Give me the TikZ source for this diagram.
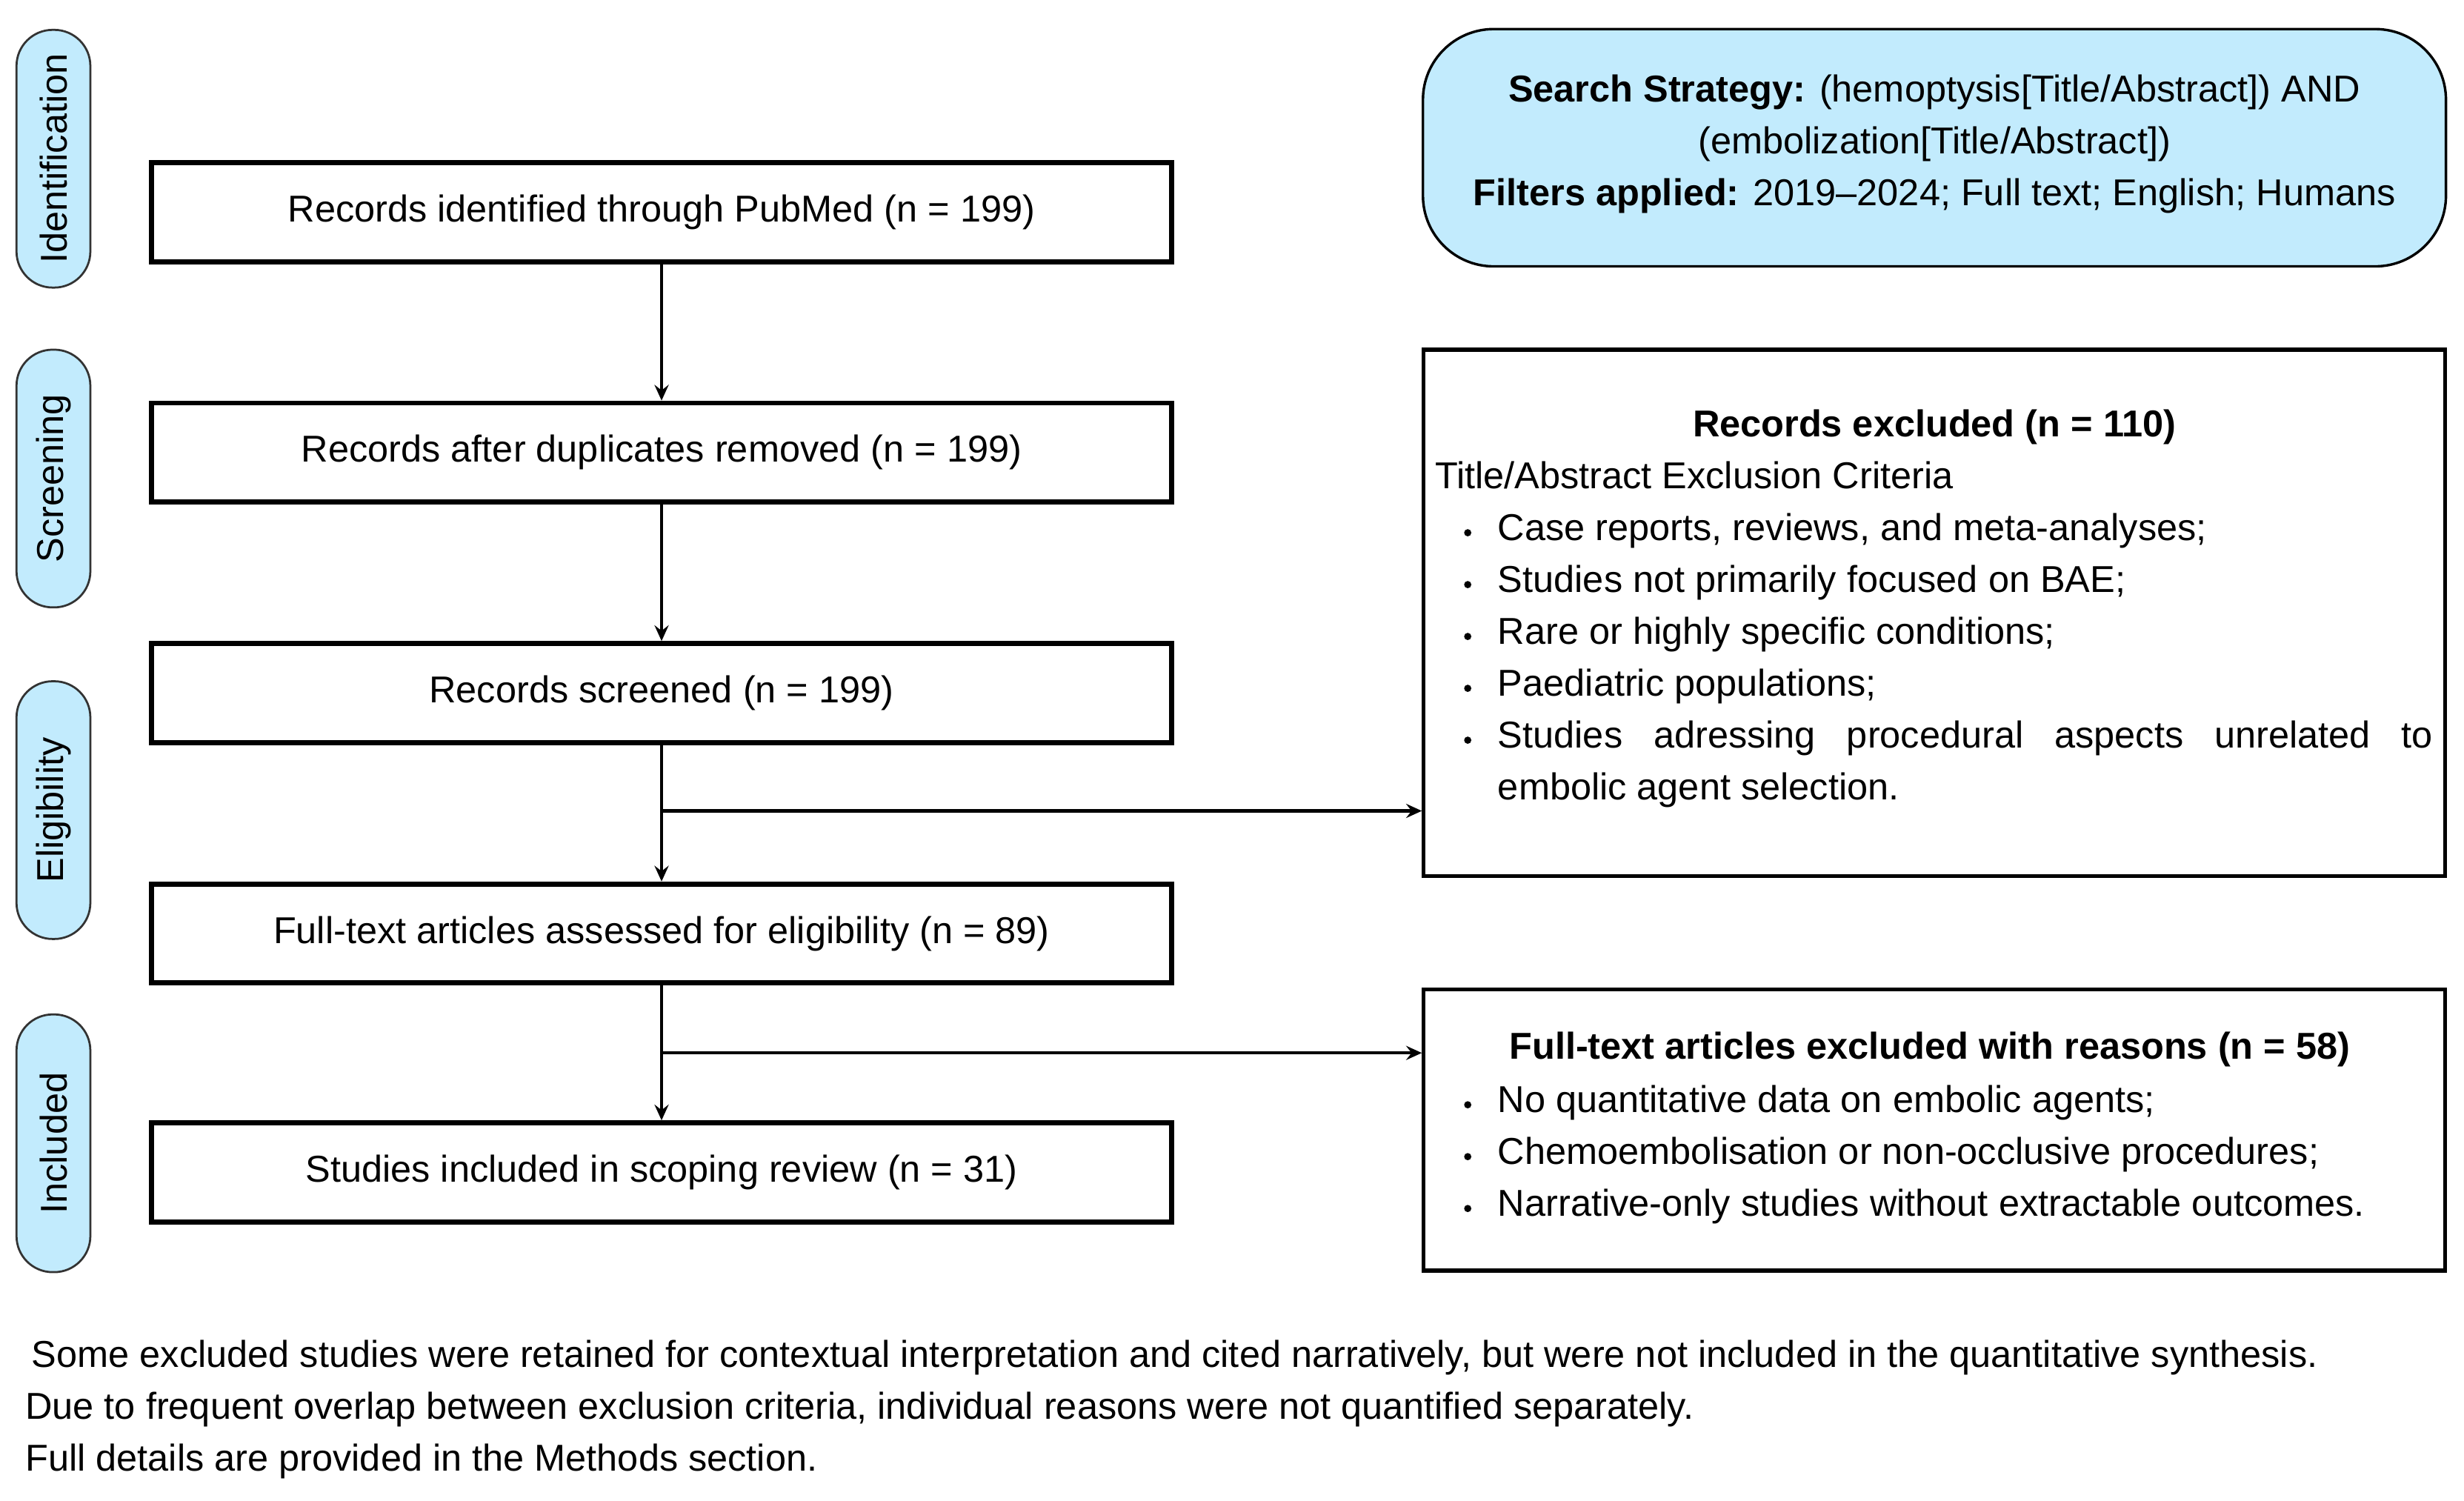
\documentclass[tikz,border=0pt]{standalone}
\usepackage{fontspec}
\setmainfont{Liberation Sans}
\usetikzlibrary{arrows.meta,calc}
\definecolor{pillblue}{RGB}{194,235,253}
\begin{document}
\begin{tikzpicture}[x=1pt,y=-1pt,
  every node/.style={font=\fontsize{23.8}{33}\selectfont, inner sep=0pt},
  mainbox/.style={draw=black, line width=3.2pt, minimum width=649pt, minimum height=63pt, fill=white},
  pill/.style={draw=black!80, line width=1.3pt, fill=pillblue, rounded corners=23pt, minimum width=164pt, minimum height=47pt, rotate=90},
  sidebox/.style={draw=black, line width=2.4pt, minimum width=650pt},
  txt/.style={anchor=base west},
  ctxt/.style={anchor=base},
  dot/.style={fill=black},
  arr/.style={-{Stealth[length=10pt,width=9pt,inset=3.5pt]}, line width=2pt},
  ]
\useasboundingbox (0,0) rectangle (1568,955);
% stage pills
\node[pill] (pid) at (34,101) {Identification};
\node[pill] (psc) at (34,304.5) {Screening};
\node[pill] (pel) at (34,515.5) {Eligibility};
\node[pill] (pin) at (34,727.5) {Included};
% main boxes
\node[mainbox] (b1) at (421,135) {Records identified through PubMed (n = 199)};
\node[mainbox] (b2) at (421,288) {Records after duplicates removed (n = 199)};
\node[mainbox] (b3) at (421,441) {Records screened (n = 199)};
\node[mainbox] (b4) at (421,594) {Full-text articles assessed for eligibility (n = 89)};
\node[mainbox] (b5) at (421,746) {Studies included in scoping review (n = 31)};
% search strategy
\node[draw=black, line width=1.6pt, fill=pillblue, rounded corners=45pt, minimum width=651pt, minimum height=151pt] (srch) at (1231,94) {};
\node[ctxt] (s1) at (1231,65) {\textbf{Search Strategy:} (hemoptysis[Title/Abstract]) AND};
\node[ctxt] (s2) at (1231,98) {(embolization[Title/Abstract])};
\node[ctxt] (s3) at (1231,131) {\textbf{Filters applied:} 2019--2024; Full text; English; Humans};
% records excluded
\node[sidebox, minimum height=335pt] (excl) at (1231,390) {};
\node[ctxt] (et) at (1231,278) {\textbf{Records excluded (n = 110)}};
\node[txt] (es) at (913,311) {Title/Abstract Exclusion Criteria};
\node[txt] (e1) at (953,344) {Case reports, reviews, and meta-analyses;};
\node[txt] (e2) at (953,377) {Studies not primarily focused on BAE;};
\node[txt] (e3) at (953,410) {Rare or highly specific conditions;};
\node[txt] (e4) at (953,443) {Paediatric populations;};
\node[txt] (e5) at (953,476) {\makebox[595pt][s]{Studies adressing procedural aspects unrelated to}};
\node[txt] (e6) at (953,509) {embolic agent selection.};
\foreach \y in {344,377,410,443,476} \fill[dot] (934,\y-5) circle (2.3pt);
% full-text excluded
\node[sidebox, minimum height=179pt] (ftx) at (1231,719) {};
\node[ctxt] (ft) at (1228,674) {\textbf{Full-text articles excluded with reasons (n = 58)}};
\node[txt] (f1) at (953,708) {No quantitative data on embolic agents;};
\node[txt] (f2) at (953,741) {Chemoembolisation or non-occlusive procedures;};
\node[txt] (f3) at (953,774) {Narrative-only studies without extractable outcomes.};
\foreach \y in {708,741,774} \fill[dot] (934,\y-5) circle (2.3pt);
% connectors
\draw[arr] (b1.south) -- (b2.north);
\draw[arr] (b2.south) -- (b3.north);
\draw[arr] (b3.south) -- (b4.north);
\draw[arr] (b4.south) -- (b5.north);
\coordinate (j1) at (421,516);
\coordinate (j2) at (421,670);
\draw[arr] (j1) -- (j1 -| excl.west);
\draw[arr] (j2) -- (j2 -| ftx.west);
% footer
\node[txt] (n1) at (20,870) {Some excluded studies were retained for contextual interpretation and cited narratively, but were not included in the quantitative synthesis.};
\node[txt] (n2) at (16,903) {Due to frequent overlap between exclusion criteria, individual reasons were not quantified separately.};
\node[txt] (n3) at (16,936) {Full details are provided in the Methods section.};
\end{tikzpicture}
\end{document}
